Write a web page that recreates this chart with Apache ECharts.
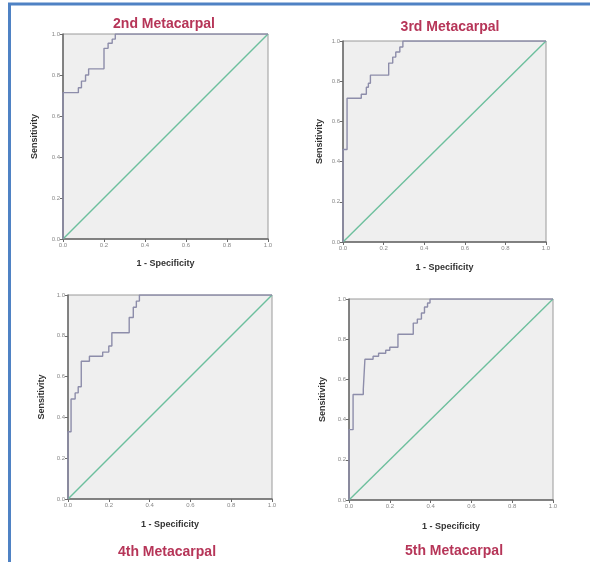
<!DOCTYPE html>
<html>
<head>
<meta charset="utf-8">
<script src="https://cdn.jsdelivr.net/npm/echarts@6/dist/echarts.min.js"></script>
<style>
html,body{margin:0;padding:0;background:#fff;}
#c{width:590px;height:562px;}
</style>
</head>
<body>
<div id="c"></div>
<script>
const panelTitles = ['2nd Metacarpal', '3rd Metacarpal', '4th Metacarpal', '5th Metacarpal'];
const tickValues = [0, 0.2, 0.4, 0.6, 0.8, 1.0];
const xAxisName = '1 - Specificity';
const yAxisName = 'Sensitivity';
const diagonal = [[0, 0], [1, 1]];

const roc2nd = [[0,0],[0,0.714],[0.075,0.714],[0.075,0.738],[0.09,0.738],[0.09,0.77],[0.11,0.77],[0.11,0.80],[0.125,0.80],[0.125,0.83],[0.2,0.83],[0.2,0.93],[0.22,0.93],[0.22,0.955],[0.24,0.955],[0.24,0.975],[0.255,0.975],[0.255,1],[1,1]];
const roc3rd = [[0,0],[0,0.46],[0.02,0.46],[0.02,0.715],[0.09,0.715],[0.09,0.735],[0.115,0.735],[0.115,0.77],[0.125,0.77],[0.125,0.79],[0.135,0.79],[0.135,0.83],[0.225,0.83],[0.225,0.89],[0.245,0.89],[0.245,0.92],[0.26,0.92],[0.26,0.945],[0.28,0.945],[0.28,0.97],[0.295,0.97],[0.295,1],[1,1]];
const roc4th = [[0,0],[0,0.33],[0.015,0.33],[0.015,0.49],[0.035,0.49],[0.035,0.52],[0.05,0.52],[0.05,0.55],[0.065,0.55],[0.065,0.675],[0.105,0.675],[0.105,0.70],[0.17,0.70],[0.17,0.72],[0.2,0.72],[0.2,0.75],[0.215,0.75],[0.215,0.815],[0.3,0.815],[0.3,0.89],[0.32,0.89],[0.32,0.94],[0.335,0.94],[0.335,0.97],[0.35,0.97],[0.35,1],[1,1]];
const roc5th = [[0,0],[0,0.35],[0.02,0.35],[0.02,0.525],[0.07,0.525],[0.07,0.55],[0.078,0.55],[0.078,0.70],[0.118,0.70],[0.118,0.715],[0.145,0.715],[0.145,0.73],[0.18,0.73],[0.18,0.745],[0.2,0.745],[0.2,0.76],[0.24,0.76],[0.24,0.825],[0.315,0.825],[0.315,0.88],[0.335,0.88],[0.335,0.90],[0.355,0.90],[0.355,0.93],[0.37,0.93],[0.37,0.96],[0.385,0.96],[0.385,0.98],[0.397,0.98],[0.397,1],[1,1]];
const rocSeries = [roc2nd, roc3rd, roc4th, roc5th];

const grids = [
  {left: 63, top: 34, width: 205, height: 205},
  {left: 343, top: 41, width: 203, height: 201},
  {left: 68, top: 295, width: 204, height: 204},
  {left: 349, top: 299, width: 204, height: 201}
];
const titlePos = [
  {x: 159, y: 12},
  {x: 445, y: 15},
  {x: 162, y: 540},
  {x: 449, y: 539}
];
const yNameGap = [24, 19, 22, 22];
const xNameGap = [20, 21, 21, 22];

const chart = echarts.init(document.getElementById('c'), null, {renderer: 'canvas'});

const option = {
  backgroundColor: '#ffffff',
  animation: false,
  title: panelTitles.map((t, i) => ({
    text: t,
    left: titlePos[i].x,
    top: titlePos[i].y,
    textAlign: 'center',
    textStyle: {color: '#b63558', fontSize: 14, fontWeight: 'bold', fontFamily: 'Liberation Sans, Arial, sans-serif'}
  })),
  grid: grids.map(g => Object.assign({show: true, backgroundColor: '#efefef', borderColor: '#9a9a9a', borderWidth: 1}, g)),
  xAxis: grids.map((g, i) => ({
    type: 'value', gridIndex: i, min: 0, max: 1, interval: 0.2,
    name: xAxisName, nameLocation: 'middle', nameGap: xNameGap[i],
    nameTextStyle: {fontSize: 9, fontWeight: 'bold', color: '#333', fontFamily: 'Liberation Sans, Arial, sans-serif'},
    axisLine: {show: true, lineStyle: {color: '#6a6a6a', width: 1.5}},
    axisTick: {show: true, length: 3, lineStyle: {color: '#6a6a6a'}},
    axisLabel: {fontSize: 6, color: '#888', margin: 3, formatter: v => v.toFixed(1)},
    splitLine: {show: false}
  })),
  yAxis: grids.map((g, i) => ({
    type: 'value', gridIndex: i, min: 0, max: 1, interval: 0.2,
    name: yAxisName, nameLocation: 'middle', nameGap: yNameGap[i],
    nameTextStyle: {fontSize: 9, fontWeight: 'bold', color: '#333', fontFamily: 'Liberation Sans, Arial, sans-serif'},
    axisLine: {show: true, lineStyle: {color: '#6a6a6a', width: 1.5}},
    axisTick: {show: true, length: 3, lineStyle: {color: '#6a6a6a'}},
    axisLabel: {fontSize: 6, color: '#888', margin: 3, formatter: v => v.toFixed(1)},
    splitLine: {show: false}
  })),
  series: [].concat(
    rocSeries.map((d, i) => ({
      type: 'line', xAxisIndex: i, yAxisIndex: i, data: d,
      showSymbol: false, symbol: 'none', z: 3,
      lineStyle: {color: '#8d8daa', width: 1.4}
    })),
    grids.map((g, i) => ({
      type: 'line', xAxisIndex: i, yAxisIndex: i, data: diagonal,
      showSymbol: false, symbol: 'none', z: 2,
      lineStyle: {color: '#6dbf9d', width: 1.4}
    }))
  ),
  graphic: [
    {type: 'line', shape: {x1: 8, y1: 4, x2: 590, y2: 4}, style: {stroke: '#4f82c4', lineWidth: 3}},
    {type: 'line', shape: {x1: 9.5, y1: 3, x2: 9.5, y2: 562}, style: {stroke: '#4f82c4', lineWidth: 3}}
  ]
};
chart.setOption(option);
</script>
</body>
</html>
